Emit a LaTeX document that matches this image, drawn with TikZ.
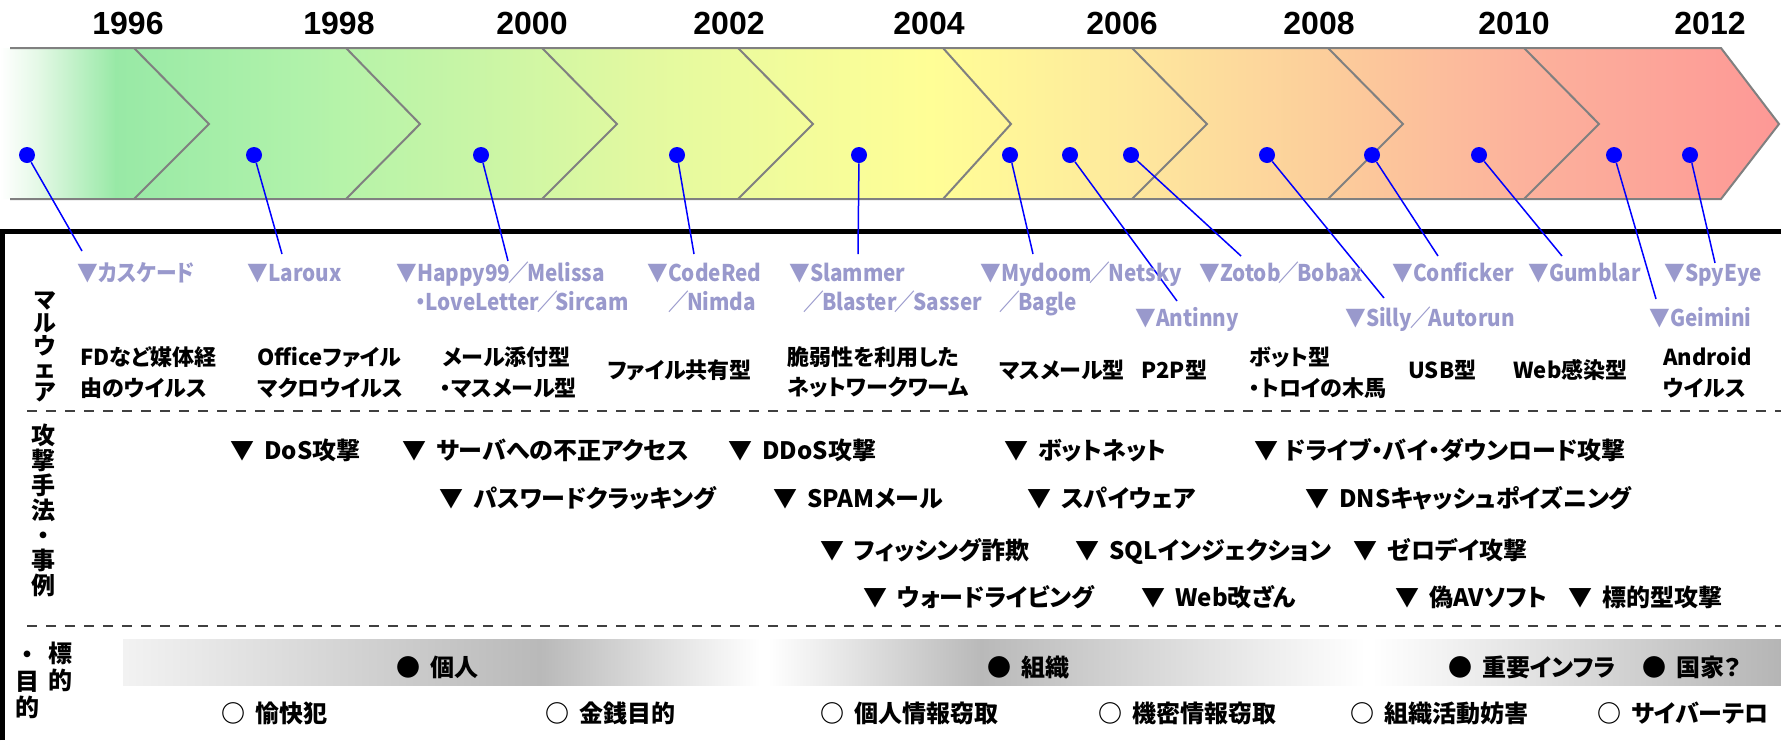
\documentclass[tikz,border=0pt]{standalone}
\usepackage{fontspec}
\newfontfamily\jp{Noto Sans CJK JP}
\newfontfamily\jpp{Noto Sans CJK JP}[RawFeature=+palt]
\newfontfamily\jpl{Noto Sans CJK JP}[RawFeature=+palt, FakeStretch=0.9]
\newfontfamily\yr{Liberation Sans}
\newcommand\fsl{\hspace{-1pt}／\hspace{-1pt}}
\definecolor{lav}{RGB}{153,153,204}
\definecolor{bandline}{RGB}{128,128,128}
\definecolor{b0}{RGB}{255,255,255}
\definecolor{b1}{RGB}{226,248,228}
\definecolor{b2}{RGB}{152,233,166}
\definecolor{b3}{RGB}{176,242,170}
\definecolor{b4}{RGB}{200,245,166}
\definecolor{b5}{RGB}{226,249,160}
\definecolor{b6}{RGB}{243,252,155}
\definecolor{b7}{RGB}{255,254,150}
\definecolor{b8}{RGB}{254,232,157}
\definecolor{b9}{RGB}{252,205,155}
\definecolor{b10}{RGB}{252,178,156}
\definecolor{b11}{RGB}{253,152,150}
\tikzset{
  yearlbl/.style={font=\yr\bfseries\fontsize{16}{16}\selectfont, inner sep=0pt},
  dot/.style={circle, fill=blue, draw=none, minimum size=8pt, inner sep=0pt},
  leader/.style={blue, line width=0.75pt},
  chevline/.style={draw=bandline, line width=1pt},
  mal/.style={font=\jpl\bfseries\fontsize{11.5}{11.5}\selectfont, text=lav, anchor=west, inner sep=0pt, text height=10.1pt, text depth=1.4pt},
  cat/.style={font=\jpp\bfseries\fontsize{11}{11}\selectfont, anchor=west, inner sep=0pt, text height=9.7pt, text depth=1.3pt},
  atk/.style={font=\jpp\bfseries\fontsize{12}{12}\selectfont, anchor=west, inner sep=0pt, text height=10.6pt, text depth=1.4pt},
  vlab/.style={font=\jp\bfseries\fontsize{11.5}{11.5}\selectfont, inner sep=0pt, align=center},
  vlabb/.style={font=\jp\bfseries\fontsize{12}{12.5}\selectfont, inner sep=0pt, align=center},
  vch/.style={font=\jp\bfseries\fontsize{12}{12}\selectfont, inner sep=0pt},
  dashline/.style={black!75, line width=1.25pt, dash pattern=on 5pt off 4.5pt},
  frameline/.style={black, line width=2.5pt}
}
\begin{document}
\begin{tikzpicture}[x=0.5pt,y=-0.5pt]
\useasboundingbox (0,0) rectangle (1781,740);
\fill[white] (0,0) rectangle (1781,740);

% ---- timeline band ----
\begin{scope}
  \clip (0,48) -- (1721,48) -- (1779,124) -- (1721,199) -- (0,199) -- cycle;
  \foreach \xa/\xb/\ca/\cb in {0/41/b0/b1, 40/116/b1/b2, 115/301/b2/b3, 300/471/b3/b4, 470/641/b4/b5, 640/801/b5/b6, 800/931/b6/b7, 930/1131/b7/b8, 1130/1331/b8/b9, 1330/1521/b9/b10, 1520/1781/b10/b11}
    \shade[left color=\ca, right color=\cb] (\xa,40) rectangle (\xb,210);
\end{scope}
\draw[chevline] (10,48) -- (1721,48) -- (1779,124) -- (1721,199) -- (10,199);
\foreach \ta/\tb in {134/209, 346/420, 542/617, 738/813, 943/1011, 1132/1207, 1328/1403, 1524/1599}
  \draw[chevline] (\ta,48) -- (\tb,124) -- (\ta,199);

% ---- years ----
\node[yearlbl] (y1996) at (128,23) {1996};
\node[yearlbl] (y1998) at (339,23) {1998};
\node[yearlbl] (y2000) at (532,23) {2000};
\node[yearlbl] (y2002) at (729,23) {2002};
\node[yearlbl] (y2004) at (929,23) {2004};
\node[yearlbl] (y2006) at (1122,23) {2006};
\node[yearlbl] (y2008) at (1319,23) {2008};
\node[yearlbl] (y2010) at (1514,23) {2010};
\node[yearlbl] (y2012) at (1710,23) {2012};

% ---- frame and separators ----
\draw[frameline] (2.5,740) -- (2.5,231) -- (1781,231);
\draw[dashline] (27,411) -- (1781,411);
\draw[dashline] (27,626) -- (1781,626);

% ---- dots and leaders ----
\foreach \n/\xx in {1/27, 2/254, 3/481, 4/677, 5/859, 6/1010, 7/1070, 8/1131, 9/1267, 10/1372, 11/1479, 12/1614, 13/1690}
  \node[dot] (d\n) at (\xx,155) {};
\coordinate (e1) at (82,251);
\coordinate (e2) at (282,254);
\coordinate (e3) at (508,261);
\coordinate (e4) at (694,254);
\coordinate (e5) at (858,254);
\coordinate (e6) at (1033,254);
\coordinate (e7) at (1177,301);
\coordinate (e8) at (1241,256);
\coordinate (e9) at (1384,298);
\coordinate (e10) at (1438,256);
\coordinate (e11) at (1562,256);
\coordinate (e12) at (1656,299);
\coordinate (e13) at (1715,263);
\foreach \n in {1,...,13}
  \draw[leader] (d\n) -- (e\n);

% ---- malware names ----
\node[mal] (m1) at (77,273) {▼カスケード};
\node[mal] (m2) at (247,273) {▼Laroux};
\node[mal] (m3a) at (396,273) {▼Happy99\fsl Melissa};
\node[mal] (m3b) at (415,302) {・LoveLetter\fsl Sircam};
\node[mal] (m4a) at (647,273) {▼CodeRed};
\node[mal] (m4b) at (670,302) {\fsl Nimda};
\node[mal] (m5a) at (789,273) {▼Slammer};
\node[mal] (m5b) at (805,302) {\fsl Blaster\fsl Sasser};
\node[mal] (m6a) at (980,273) {▼Mydoom\fsl Netsky};
\node[mal] (m6b) at (1001,302) {\fsl Bagle};
\node[mal] (m7) at (1135,318) {▼Antinny};
\node[mal] (m8) at (1199,273) {▼Zotob\fsl Bobax};
\node[mal] (m9) at (1345,318) {▼Silly\fsl Autorun};
\node[mal] (m10) at (1392,273) {▼Conficker};
\node[mal] (m11) at (1528,273) {▼Gumblar};
\node[mal] (m12) at (1649,318) {▼Geimini};
\node[mal] (m13) at (1664,273) {▼SpyEye};

% ---- malware categories ----
\node[vlab] (lmal) at (45,347) {マ\\ル\\ウ\\ェ\\ア};
\node[cat] (c1a) at (80,357) {FDなど媒体経};
\node[cat] (c1b) at (80,388) {由のウイルス};
\node[cat] (c2a) at (257,357) {Officeファイル};
\node[cat] (c2b) at (257,388) {マクロウイルス};
\node[cat] (c3a) at (442,357) {メール添付型};
\node[cat] (c3b) at (440,388) {・マスメール型};
\node[cat] (c4) at (607,370) {ファイル共有型};
\node[cat] (c5a) at (787,357) {脆弱性を利用した};
\node[cat] (c5b) at (787,387) {ネットワークワーム};
\node[cat] (c6) at (999,370) {マスメール型};
\node[cat] (c7) at (1141,370) {P2P型};
\node[cat] (c8a) at (1249,357) {ボット型};
\node[cat] (c8b) at (1249,388) {・トロイの木馬};
\node[cat] (c9) at (1408,370) {USB型};
\node[cat] (c10) at (1513,370) {Web感染型};
\node[cat] (c11a) at (1663,357) {Android};
\node[cat] (c11b) at (1663,388) {ウイルス};

% ---- attack methods ----
\node[vlabb] (latk) at (44,510) {攻\\撃\\手\\法\\・\\事\\例};
\node[atk] (a1) at (230,450) {▼\hspace{5pt}DoS攻撃};
\node[atk] (a2) at (402,450) {▼\hspace{5pt}サーバへの不正アクセス};
\node[atk] (a3) at (728,450) {▼\hspace{5pt}DDoS攻撃};
\node[atk] (a4) at (1004,450) {▼\hspace{5pt}ボットネット};
\node[atk] (a5) at (1254,450) {▼\hspace{3pt}ドライブ・バイ・ダウンロード攻撃};
\node[atk] (a6) at (439,498) {▼\hspace{5pt}パスワードクラッキング};
\node[atk] (a7) at (773,498) {▼\hspace{5pt}SPAMメール};
\node[atk] (a8) at (1027,498) {▼\hspace{5pt}スパイウェア};
\node[atk] (a9) at (1305,498) {▼\hspace{5pt}DNSキャッシュポイズニング};
\node[atk] (a10) at (820,550) {▼\hspace{5pt}フィッシング詐欺};
\node[atk] (a11) at (1075,550) {▼\hspace{5pt}SQLインジェクション};
\node[atk] (a12) at (1353,550) {▼\hspace{5pt}ゼロデイ攻撃};
\node[atk] (a13) at (863,597) {▼\hspace{5pt}ウォードライビング};
\node[atk] (a14) at (1141,597) {▼\hspace{5pt}Web改ざん};
\node[atk] (a15) at (1395,597) {▼\hspace{5pt}偽AVソフト};
\node[atk] (a16) at (1568,597) {▼\hspace{5pt}標的型攻撃};

% ---- targets / motives ----
\shade[left color=gray!10, right color=gray!55] (123,639) rectangle (541,685);
\shade[left color=gray!55, right color=white] (540,639) rectangle (760,685);
\shade[left color=white, right color=gray!55] (768,639) rectangle (981,685);
\shade[left color=gray!55, right color=white] (980,639) rectangle (1365,685);
\shade[left color=white, right color=gray!58] (1372,639) rectangle (1781,685);
\node[vch] (t1) at (60,653) {標};
\node[vch] (t2) at (60,680) {的};
\node[vch] (t3) at (27,657) {・};
\node[vch] (t4) at (27,682) {目};
\node[vch] (t5) at (27,707) {的};
\node[atk] (p1) at (396,667) {●\hspace{5pt}個人};
\node[atk] (p2) at (987,667) {●\hspace{5pt}組織};
\node[atk] (p3) at (1448,667) {●\hspace{5pt}重要インフラ};
\node[atk] (p4) at (1642,667) {●\hspace{5pt}国家？};
\node[atk] (q1) at (221,713) {○\hspace{5pt}愉快犯};
\node[atk] (q2) at (545,713) {○\hspace{5pt}金銭目的};
\node[atk] (q3) at (820,713) {○\hspace{5pt}個人情報窃取};
\node[atk] (q4) at (1098,713) {○\hspace{5pt}機密情報窃取};
\node[atk] (q5) at (1350,713) {○\hspace{5pt}組織活動妨害};
\node[atk] (q6) at (1597,713) {○\hspace{5pt}サイバーテロ};
\end{tikzpicture}
\end{document}
